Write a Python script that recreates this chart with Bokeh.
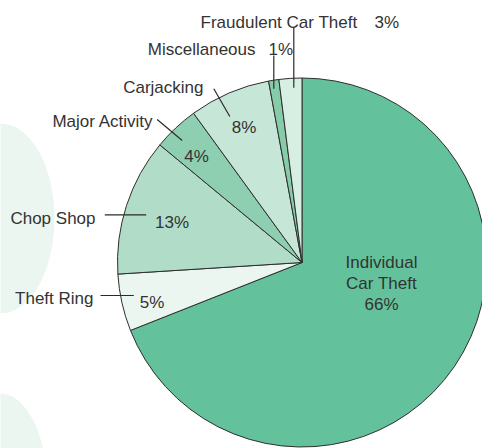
import numpy as np
from bokeh.plotting import figure
from bokeh.models import Range1d, ColumnDataSource
from bokeh.embed import file_html
from bokeh.resources import INLINE
from bokeh.core.properties import value

# ---- data (clockwise from 12 o'clock) ----
categories = ["Individual Car Theft", "Theft Ring", "Chop Shop", "Major Activity",
              "Carjacking", "Miscellaneous", "Fraudulent Car Theft"]
percent_labels = [66, 5, 13, 4, 8, 1, 3]          # printed values
drawn_share = [69.0, 5.0, 12.0, 4.0, 7.1, 0.9, 2.0]  # slice sizes as drawn
slice_colors = ["#63c29b", "#eaf6ef", "#b1dcc8", "#8ecfb1", "#c6e6d7", "#86cca9", "#d7eee3"]

# ---- page geometry (reference pixel space, y measured downward) ----
W, H = 482, 448
def Y(ry):
    return H - ry

p = figure(width=W, height=H, output_backend="svg", toolbar_location=None,
           x_range=Range1d(0, W), y_range=Range1d(0, H), min_border=0)
p.axis.visible = False
p.grid.visible = False
p.outline_line_color = None
p.background_fill_color = "white"
p.border_fill_color = "white"

# decorative background shapes
p.ellipse(x=[0, 0], y=[Y(218), Y(488)], width=[108, 94], height=[190, 190],
          fill_color="#ebf6f0", line_color=None)

# ---- pie ----
cx, cy, R = 301.5, Y(262), 184.5
frac = np.array(drawn_share) / np.sum(drawn_share)
cum = np.concatenate([[0.0], np.cumsum(frac)])
start = np.pi / 2 - 2 * np.pi * cum[:-1]
end = np.pi / 2 - 2 * np.pi * cum[1:]
src = ColumnDataSource(dict(cat=categories, start=start, end=end, color=slice_colors))
p.wedge(x=cx, y=cy, radius=R, start_angle="start", end_angle="end", direction="clock",
        fill_color="color", line_color="#2e2e2e", line_width=1, source=src)

# ---- leader lines ----
lx0 = [293.3, 273.3, 213.3, 156.7, 104.3, 100.0]
ly0 = [26.7, 55.0, 88.3, 119.0, 214.3, 295.0]
lx1 = [293.3, 273.3, 229.3, 181.7, 145.7, 133.3]
ly1 = [87.3, 88.3, 116.0, 140.0, 214.3, 295.0]
p.segment(x0=lx0, y0=[Y(v) for v in ly0], x1=lx1, y1=[Y(v) for v in ly1],
          line_color="#2a2a2a", line_width=1.2)

font = value("Liberation Sans")
fs = "17px"
tc = "#333333"
pct = [f"{v}%" for v in percent_labels]

def txt(xs, ys, texts, align):
    p.text(x=xs, y=[Y(v) for v in ys], text=texts, text_font=font, text_font_size=fs,
           text_color=tc, text_align=align, text_baseline="alphabetic")

# category names outside (right-aligned toward leader lines)
txt([255, 203, 153, 95, 93],
    [49.3, 87.0, 120.7, 217.5, 298.3],
    [categories[5], categories[4], categories[3], categories[2], categories[1]], "right")
txt([278.5], [21.8], [categories[6]], "center")
# percentages next to the top labels
txt([374, 268], [21.8, 49.3], [pct[6], pct[5]], "left")
# percentages inside slices
txt([243.5, 196, 171.5, 151.5], [126.7, 156.3, 221.7, 302.3],
    [pct[4], pct[3], pct[2], pct[1]], "center")
# main slice label
txt([381, 381, 381], [262.3, 283.3, 304.0], ["Individual", "Car Theft", pct[0]], "center")

open("out.html", "w").write(file_html(p, INLINE))
